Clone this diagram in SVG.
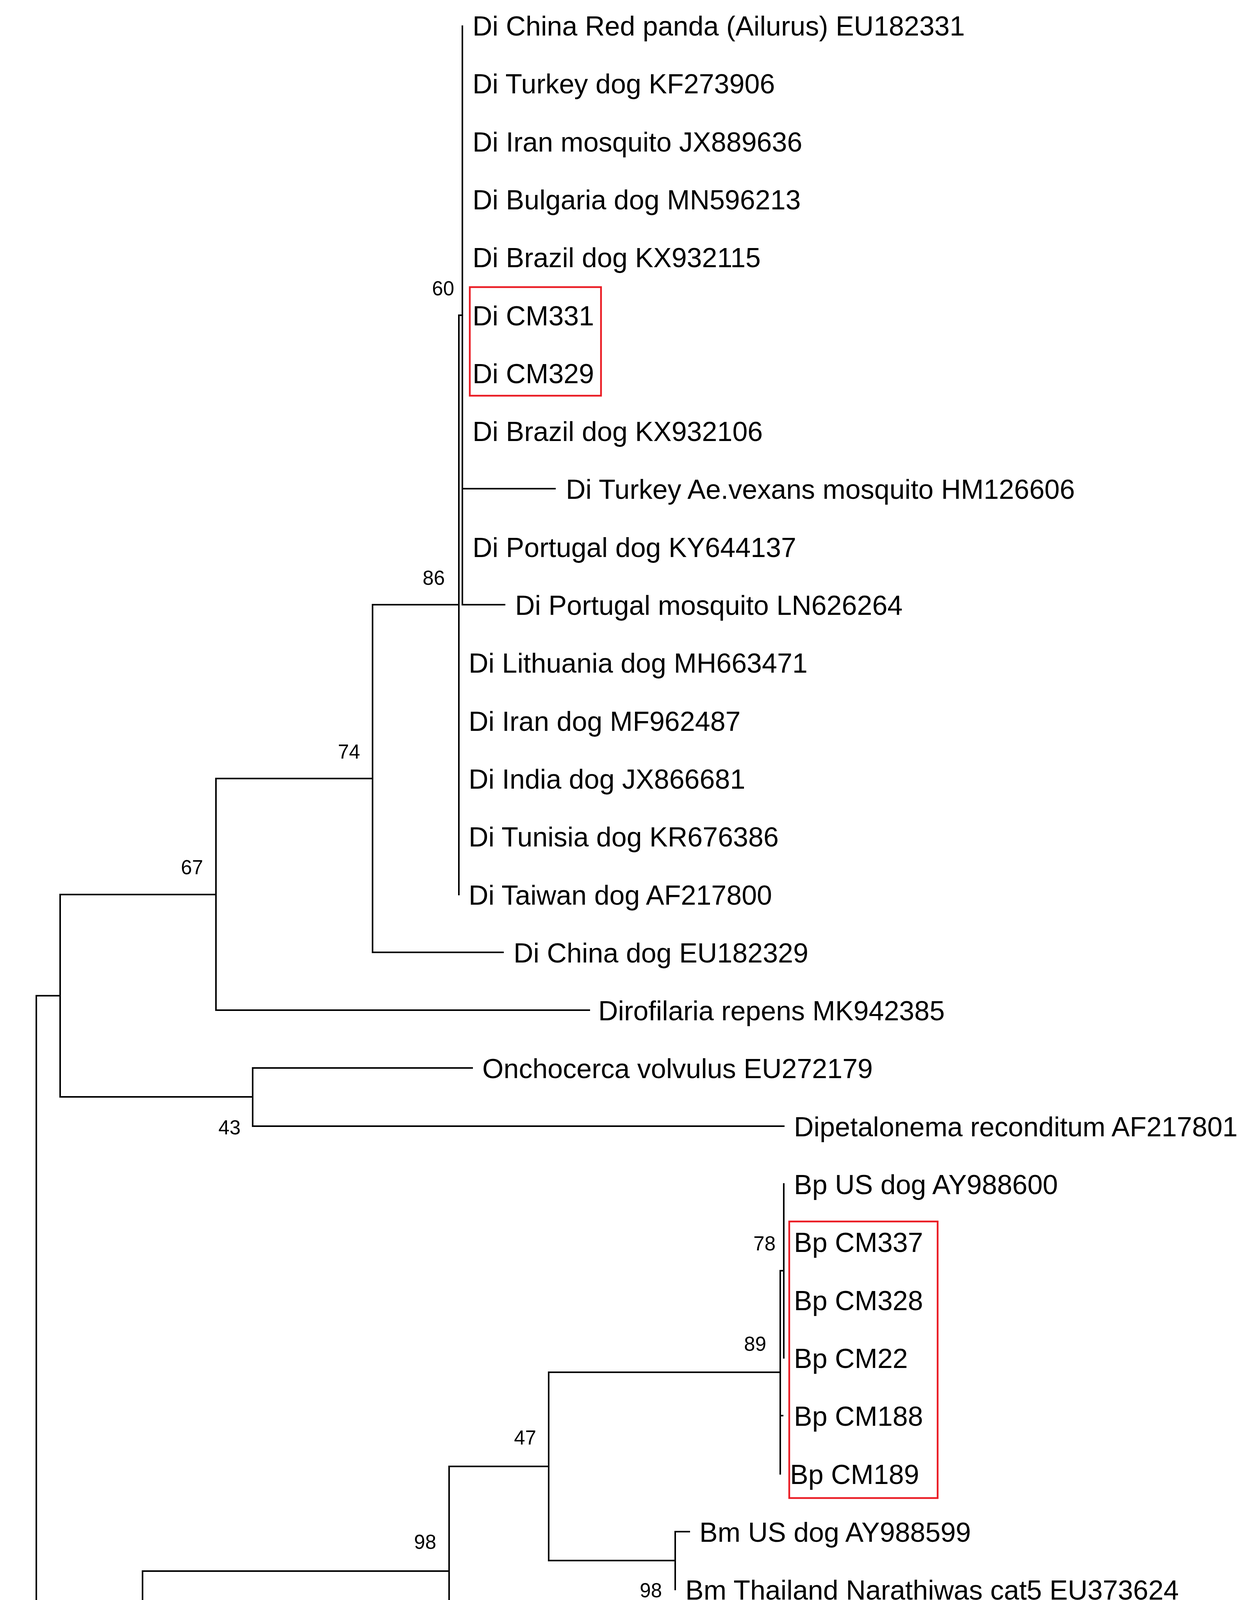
<svg xmlns="http://www.w3.org/2000/svg" width="3206" height="4890" viewBox="0 0 3206 4890">
<style>
.lab{font-family:"Liberation Sans",Arial,sans-serif;font-size:70px;fill:#000}
.sup{font-family:"Liberation Sans",Arial,sans-serif;font-size:51px;fill:#000;text-anchor:end}
.ax{font-family:"Liberation Sans",Arial,sans-serif;font-size:58px;fill:#000;text-anchor:middle}
.br{fill:none;stroke:#000;stroke-width:4;stroke-linecap:square}
.box{fill:none;stroke:#ea1c24;stroke-width:4.5}
</style>
<rect x="0" y="0" width="3206" height="4890" fill="#fff"/>
<g id="connectors" class="br">
<path d="M1184 67V1548M1184 1251H1421M1184 1548H1292"/>
<path d="M1175 807V2290M1175 807H1184"/>
<path d="M954 1548V2438M954 1548H1175M954 2438H1288"/>
<path d="M553 1993V2586M553 1993H954M553 2586H1509"/>
<path d="M647 2734V2883M647 2734H1209M647 2883H2007"/>
<path d="M154 2290V2808M154 2290H553M154 2808H647"/>
<path d="M2007 3031V3476"/>
<path d="M1998 3253V3773M1998 3253H2007M1998 3624H2004"/>
<path d="M1729 3921V4069M1729 3921H1765"/>
<path d="M1405 3513V3995M1405 3513H1998M1405 3995H1729"/>
<path d="M1318 4217V4366"/>
<path d="M1150 3754V4291M1150 3754H1405M1150 4291H1318"/>
<path d="M365 4022V4514M365 4022H1150M365 4514H1769"/>
<path d="M93 2549V4268M93 2549H154M93 4268H365"/>
</g>
<g id="highlight-boxes">
<rect class="box" x="1203" y="735" width="336" height="278"/>
<rect class="box" x="2021" y="3127" width="380" height="708"/>
</g>
<g id="leaves" class="lab">
<g id="leaf0"><text x="1210" y="91">Di China Red panda (Ailurus) EU182331</text></g>
<g id="leaf1"><text x="1210" y="239">Di Turkey dog KF273906</text></g>
<g id="leaf2"><text x="1210" y="388">Di Iran mosquito JX889636</text></g>
<g id="leaf3"><text x="1210" y="536">Di Bulgaria dog MN596213</text></g>
<g id="leaf4"><text x="1210" y="684">Di Brazil dog KX932115</text></g>
<g id="leaf5"><text x="1210" y="833">Di CM331</text></g>
<g id="leaf6"><text x="1210" y="981">Di CM329</text></g>
<g id="leaf7"><text x="1210" y="1129">Di Brazil dog KX932106</text></g>
<g id="leaf8"><text x="1449" y="1277">Di Turkey Ae.vexans mosquito HM126606</text></g>
<g id="leaf9"><text x="1210" y="1426">Di Portugal dog KY644137</text></g>
<g id="leaf10"><text x="1319" y="1574">Di Portugal mosquito LN626264</text></g>
<g id="leaf11"><text x="1200" y="1722">Di Lithuania dog MH663471</text></g>
<g id="leaf12"><text x="1200" y="1871">Di Iran dog MF962487</text></g>
<g id="leaf13"><text x="1200" y="2019">Di India dog JX866681</text></g>
<g id="leaf14"><text x="1200" y="2167">Di Tunisia dog KR676386</text></g>
<g id="leaf15"><text x="1200" y="2316">Di Taiwan dog AF217800</text></g>
<g id="leaf16"><text x="1315" y="2464">Di China dog EU182329</text></g>
<g id="leaf17"><text x="1532" y="2612">Dirofilaria repens MK942385</text></g>
<g id="leaf18"><text x="1235" y="2760">Onchocerca volvulus EU272179</text></g>
<g id="leaf19"><text x="2033" y="2909">Dipetalonema reconditum AF217801</text></g>
<g id="leaf20"><text x="2033" y="3057">Bp US dog AY988600</text></g>
<g id="leaf21"><text x="2033" y="3205">Bp CM337</text></g>
<g id="leaf22"><text x="2033" y="3354">Bp CM328</text></g>
<g id="leaf23"><text x="2033" y="3502">Bp CM22</text></g>
<g id="leaf24"><text x="2033" y="3650">Bp CM188</text></g>
<g id="leaf25"><text x="2023" y="3799">Bp CM189</text></g>
<g id="leaf26"><text x="1791" y="3947">Bm US dog AY988599</text></g>
<g id="leaf27"><text x="1755" y="4095">Bm Thailand Narathiwas cat5 EU373624</text></g>
<g id="leaf28"><text x="1346" y="4243">Bp Thailand Bangkok cat6 EU373632</text></g>
<g id="leaf29"><text x="1346" y="4392">Bp Thailand Bangkok cat7 EU373655</text></g>
<g id="leaf30"><text x="1793" y="4540">Setaria digitata EF196091</text></g>
</g>
<g id="supports" class="sup">
<g id="s60"><text x="1163" y="756">60</text></g>
<g id="s86"><text x="1139" y="1497">86</text></g>
<g id="s74"><text x="922" y="1942">74</text></g>
<g id="s67"><text x="520" y="2238">67</text></g>
<g id="s43"><text x="616" y="2904">43</text></g>
<g id="s78"><text x="1986" y="3201">78</text></g>
<g id="s89"><text x="1962" y="3458">89</text></g>
<g id="s47"><text x="1373" y="3698">47</text></g>
<g id="s98a"><text x="1117" y="3965">98</text></g>
<g id="s98b"><text x="1695" y="4089">98</text></g>
<g id="s99"><text x="1283" y="4386">99</text></g>
<g id="s30"><text x="330" y="4362">30</text></g>
</g>
<g id="scale-axis">
<path d="M90 4738H2007" stroke="#000" stroke-width="4.5" fill="none"/>
<path d="M217 4708V4764M473 4708V4764M728 4708V4764M984 4708V4764M1240 4708V4764M1496 4708V4764M1751 4708V4764M2007 4708V4764" stroke="#000" stroke-width="4" fill="none"/>
<g class="ax">
<text x="219" y="4841" textLength="95" lengthAdjust="spacingAndGlyphs">0.70</text>
<text x="475" y="4841" textLength="95" lengthAdjust="spacingAndGlyphs">0.60</text>
<text x="730" y="4841" textLength="95" lengthAdjust="spacingAndGlyphs">0.50</text>
<text x="986" y="4841" textLength="95" lengthAdjust="spacingAndGlyphs">0.40</text>
<text x="1242" y="4841" textLength="95" lengthAdjust="spacingAndGlyphs">0.30</text>
<text x="1498" y="4841" textLength="95" lengthAdjust="spacingAndGlyphs">0.20</text>
<text x="1753" y="4841" textLength="95" lengthAdjust="spacingAndGlyphs">0.10</text>
<text x="2009" y="4841" textLength="95" lengthAdjust="spacingAndGlyphs">0.00</text>
</g>
</g>
</svg>
